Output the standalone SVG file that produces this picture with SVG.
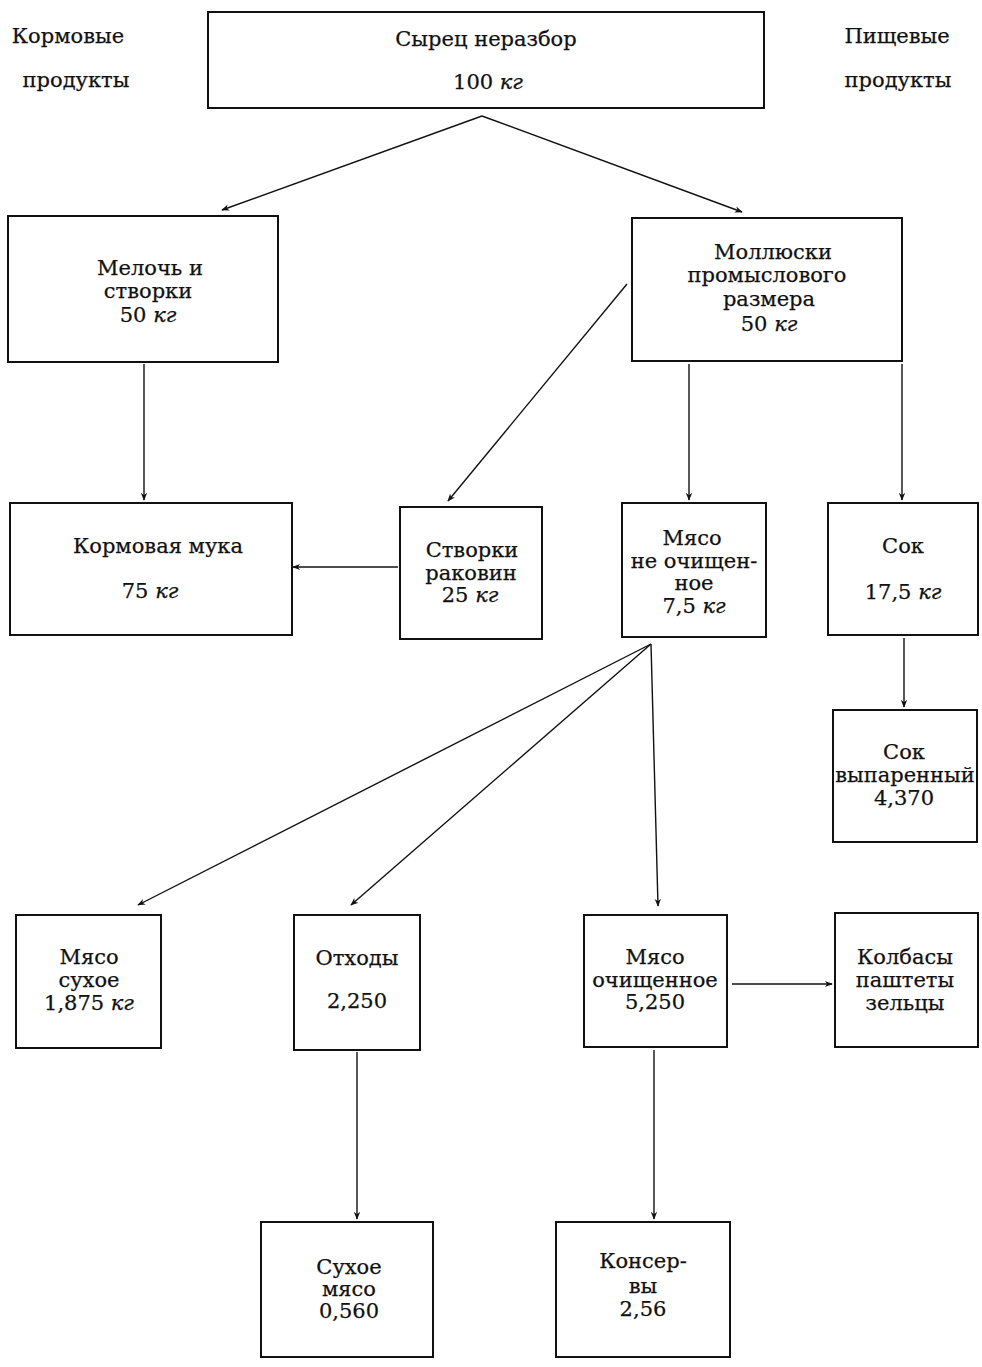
<svg xmlns="http://www.w3.org/2000/svg" width="982" height="1367" viewBox="0 0 982 1367">
<style>
.b{fill:none;stroke:#111;stroke-width:2}
.t{font-family:"DejaVu Serif","Liberation Serif",serif;font-size:21px;fill:#111;stroke:#111;stroke-width:0.25;text-anchor:middle}
.i{font-style:italic}
.c{fill:none;stroke:#111;stroke-width:1.4;marker-end:url(#a)}
</style>
<defs>
<marker id="a" viewBox="0 0 10 10" refX="9" refY="5" markerWidth="8" markerHeight="8" markerUnits="userSpaceOnUse" orient="auto">
<path d="M0,1 L10,5 L0,9 L3,5 Z" fill="#111"/>
</marker>
</defs>
<rect width="982" height="1367" fill="#fff"/>
<g id="labels">
<text class="t" x="68" y="43">Кормовые</text>
<text class="t" x="76" y="87">продукты</text>
<text class="t" x="897" y="43">Пищевые</text>
<text class="t" x="898" y="87">продукты</text>
</g>
<g id="n_syrec">
<rect class="b" x="208" y="12" width="556" height="96"/>
<text class="t" x="486" y="46">Сырец неразбор</text>
<text class="t" x="488" y="89">100 <tspan class="i">кг</tspan></text>
</g>
<g id="n_meloch">
<rect class="b" x="8" y="216" width="270" height="146"/>
<text class="t" x="150" y="275">Мелочь и</text>
<text class="t" x="148" y="298">створки</text>
<text class="t" x="148" y="322">50 <tspan class="i">кг</tspan></text>
</g>
<g id="n_mollusk">
<rect class="b" x="632" y="218" width="270" height="143"/>
<text class="t" x="773" y="259">Моллюски</text>
<text class="t" x="767" y="282">промыслового</text>
<text class="t" x="769" y="306">размера</text>
<text class="t" x="769" y="331">50 <tspan class="i">кг</tspan></text>
</g>
<g id="n_muka">
<rect class="b" x="10" y="503" width="282" height="132"/>
<text class="t" x="158" y="553">Кормовая мука</text>
<text class="t" x="150" y="598">75 <tspan class="i">кг</tspan></text>
</g>
<g id="n_stvorki">
<rect class="b" x="400" y="507" width="142" height="132"/>
<text class="t" x="472" y="557">Створки</text>
<text class="t" x="471" y="580">раковин</text>
<text class="t" x="470" y="602">25 <tspan class="i">кг</tspan></text>
</g>
<g id="n_myaso_neoch">
<rect class="b" x="622" y="503" width="144" height="134"/>
<text class="t" x="692" y="545">Мясо</text>
<text class="t" x="694" y="568">не очищен-</text>
<text class="t" x="694" y="590">ное</text>
<text class="t" x="694" y="613">7,5 <tspan class="i">кг</tspan></text>
</g>
<g id="n_sok">
<rect class="b" x="828" y="503" width="150" height="132"/>
<text class="t" x="903" y="553">Сок</text>
<text class="t" x="903" y="599">17,5 <tspan class="i">кг</tspan></text>
</g>
<g id="n_sok_vyp">
<rect class="b" x="833" y="710" width="144" height="132"/>
<text class="t" x="904" y="759">Сок</text>
<text class="t" x="905" y="782">выпаренный</text>
<text class="t" x="904" y="805">4,370</text>
</g>
<g id="n_myaso_suhoe">
<rect class="b" x="16" y="915" width="145" height="133"/>
<text class="t" x="89" y="964">Мясо</text>
<text class="t" x="89" y="987">сухое</text>
<text class="t" x="89" y="1010">1,875 <tspan class="i">кг</tspan></text>
</g>
<g id="n_othody">
<rect class="b" x="294" y="915" width="126" height="135"/>
<text class="t" x="357" y="965">Отходы</text>
<text class="t" x="357" y="1008">2,250</text>
</g>
<g id="n_myaso_och">
<rect class="b" x="584" y="915" width="143" height="132"/>
<text class="t" x="655" y="964">Мясо</text>
<text class="t" x="655" y="987">очищенное</text>
<text class="t" x="655" y="1009">5,250</text>
</g>
<g id="n_kolbasy">
<rect class="b" x="835" y="913" width="143" height="134"/>
<text class="t" x="905" y="964">Колбасы</text>
<text class="t" x="905" y="987">паштеты</text>
<text class="t" x="905" y="1010">зельцы</text>
</g>
<g id="n_suhoe_myaso">
<rect class="b" x="261" y="1222" width="172" height="135"/>
<text class="t" x="349" y="1274">Сухое</text>
<text class="t" x="349" y="1296">мясо</text>
<text class="t" x="349" y="1318">0,560</text>
</g>
<g id="n_konservy">
<rect class="b" x="556" y="1222" width="174" height="135"/>
<text class="t" x="643" y="1268">Консер-</text>
<text class="t" x="643" y="1293">вы</text>
<text class="t" x="643" y="1316">2,56</text>
</g>
<g id="connectors">
<path class="c" d="M482,116 L222,210"/>
<path class="c" d="M482,116 L742,212"/>
<path class="c" d="M144,364 L144,500"/>
<path class="c" d="M627,284 L448,501"/>
<path class="c" d="M689,364 L689,500"/>
<path class="c" d="M902,364 L902,500"/>
<path class="c" d="M398,567 L293,567"/>
<path class="c" d="M904,638 L904,707"/>
<path class="c" d="M651,644 L138,905"/>
<path class="c" d="M651,644 L351,905"/>
<path class="c" d="M651,644 L658,906"/>
<path class="c" d="M732,984 L832,984"/>
<path class="c" d="M357,1052 L357,1219"/>
<path class="c" d="M654,1050 L654,1219"/>
</g>
</svg>
